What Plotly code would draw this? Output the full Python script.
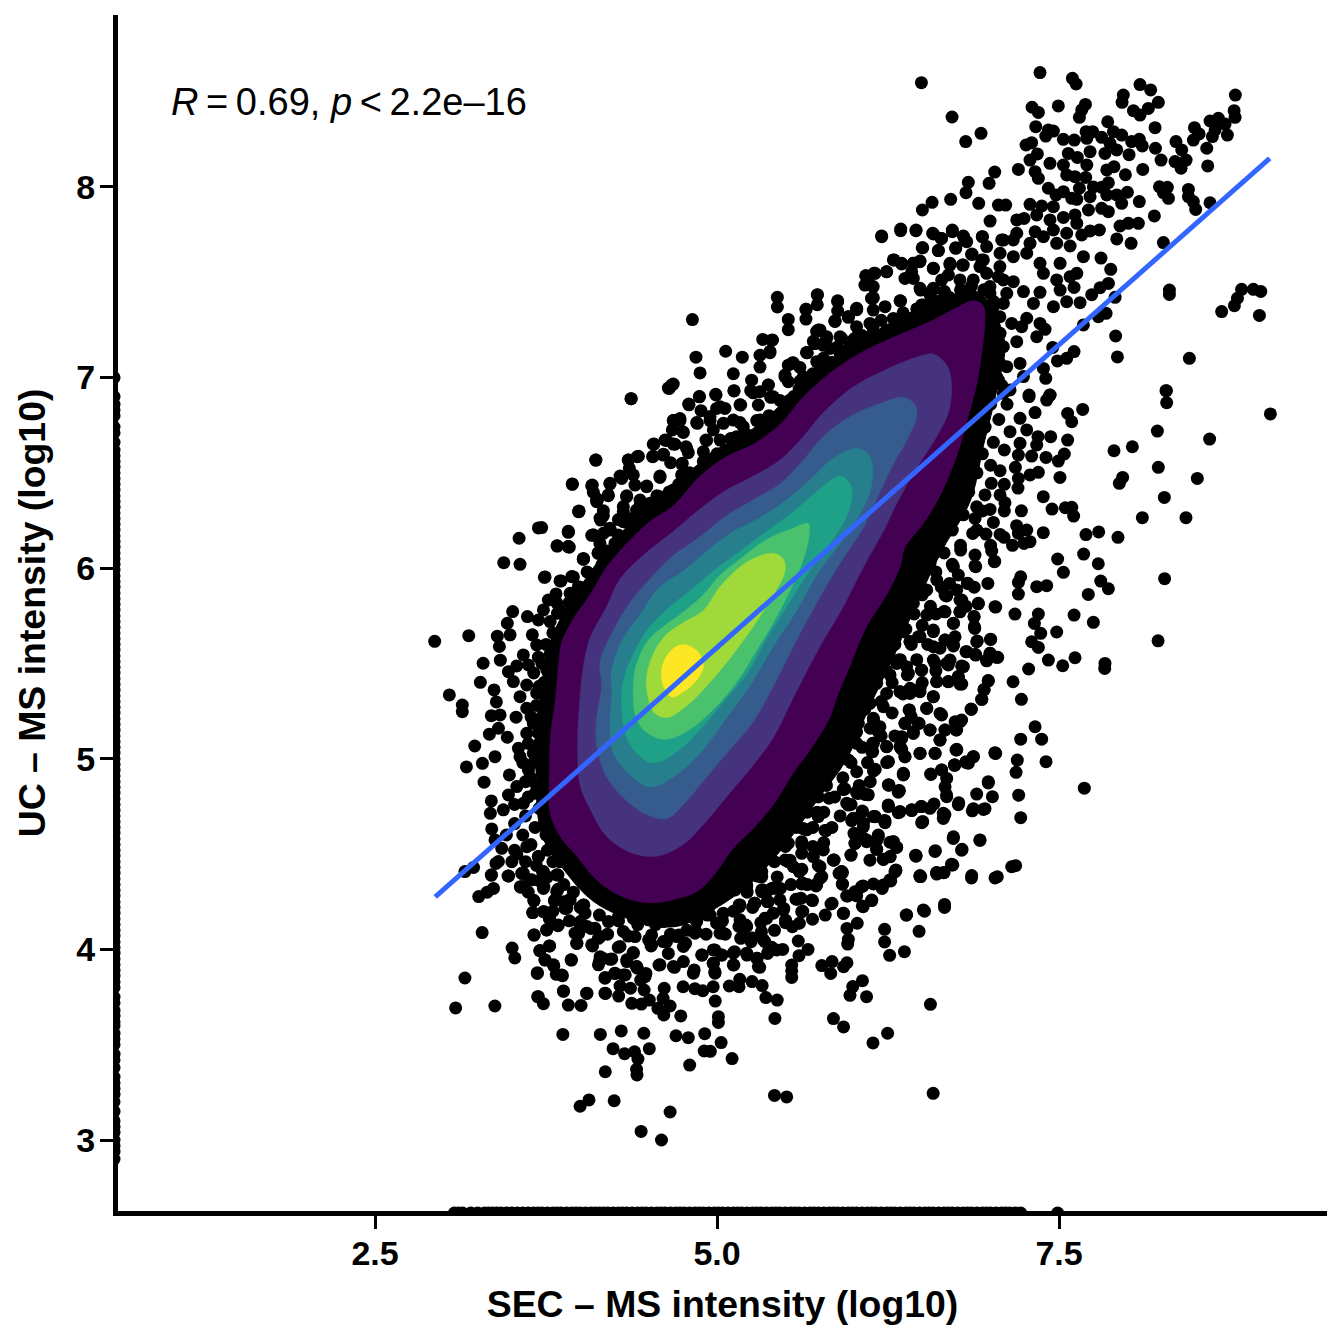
import plotly.graph_objects as go

x_ticks = [2.5, 5.0, 7.5]
x_tick_labels = ["2.5", "5.0", "7.5"]
y_ticks = [3, 4, 5, 6, 7, 8]
y_tick_labels = ["3", "4", "5", "6", "7", "8"]
x_title = "SEC – MS intensity (log10)"
y_title = "UC – MS intensity (log10)"
stat_label = "<i>R</i>\u2009=\u20090.69, <i>p</i>\u2009<\u20092.2e–16"
fit_x = [2.94, 9.04]
fit_y = [4.275, 8.15]
viridis8 = ["#440154", "#46337E", "#365C8D", "#277F8E", "#1FA187", "#4AC16D", "#9FDA3A", "#FDE725"]

# SEC missing: points pinned on the left limit, UC value
left_edge_x = 0.592
left_edge_y = [2.9, 2.94, 2.97, 3.0, 3.04, 3.07, 3.1, 3.15, 3.2, 3.24, 3.27, 3.3, 3.33, 3.38, 3.42, 3.45, 3.5, 3.53, 3.56, 3.6, 3.62, 3.65, 3.68, 3.72, 3.75, 3.8, 3.83, 3.86, 3.89, 3.92, 3.95, 3.98,
               4.01, 4.04, 4.07, 4.1, 4.13, 4.16, 4.19, 4.22, 4.25, 4.28, 4.31, 4.34, 4.37, 4.4, 4.43, 4.46, 4.49, 4.52, 4.55, 4.58, 4.61, 4.64, 4.67, 4.7, 4.73, 4.76, 4.79, 4.82, 4.85, 4.88, 4.91, 4.94, 4.97, 5.0, 5.03, 5.06, 5.09, 5.12, 5.15, 5.18,
               5.21, 5.24, 5.27, 5.3, 5.33, 5.36, 5.39, 5.42, 5.45, 5.48, 5.51, 5.54, 5.57, 5.6, 5.63, 5.66, 5.69, 5.72, 5.75, 5.78, 5.81, 5.84, 5.87, 5.9, 5.93, 5.96, 5.99, 6.02, 6.05, 6.08, 6.11, 6.14, 6.17, 6.2, 6.23, 6.26, 6.29, 6.32, 6.35, 6.38,
               6.41, 6.44, 6.47, 6.5, 6.53, 6.56, 6.59, 6.62, 6.66, 6.71, 6.74, 6.8, 6.83, 6.86, 6.9, 7.0]
# UC missing: points pinned on the bottom limit, SEC value
bottom_edge_y = 2.617
bottom_edge_x = [3.08, 3.11, 3.14, 3.2, 3.25, 3.3, 3.33, 3.36, 3.39, 3.42, 3.46, 3.5, 3.54, 3.58, 3.62, 3.66, 3.69, 3.72, 3.76, 3.8, 3.83, 3.86, 3.9, 3.94, 3.97, 4.0, 4.04, 4.08, 4.11, 4.14, 4.17, 4.2, 4.24, 4.28, 4.31, 4.34, 4.38, 4.42, 4.45,
                 4.48, 4.52, 4.56, 4.59, 4.62, 4.66, 4.7, 4.73, 4.76, 4.8, 4.84, 4.87, 4.9, 4.94, 4.98, 5.01, 5.04, 5.08, 5.12, 5.15, 5.18, 5.22, 5.26, 5.29, 5.32, 5.36, 5.4, 5.43, 5.46, 5.5, 5.54, 5.57, 5.6, 5.64, 5.68, 5.71, 5.74, 5.78, 5.82,
                 5.85, 5.88, 5.92, 5.96, 5.99, 6.02, 6.06, 6.1, 6.13, 6.16, 6.2, 6.24, 6.27, 6.3, 6.34, 6.38, 6.41, 6.44, 6.48, 6.52, 6.55, 6.58, 6.62, 6.66, 6.69, 6.72, 6.76, 6.8, 6.83, 6.86, 6.9, 6.94, 6.97, 7.0, 7.04, 7.08, 7.11, 7.14, 7.18, 7.22, 7.49]

dense_core_x = [6.9, 7.1, 7.05, 6.95, 6.85, 6.65, 6.45, 6.3, 6.1, 5.95, 5.75, 5.5, 5.25, 5.0, 4.7, 4.4, 4.1, 3.9, 3.72, 3.68, 3.72, 3.8, 3.98, 4.2, 4.45, 4.7, 5.0, 5.3, 5.6, 5.9, 6.25, 6.6, 6.9]
dense_core_y = [7.45, 7.2, 6.95, 6.65, 6.35, 6.1, 5.8, 5.55, 5.25, 5.0, 4.8, 4.55, 4.35, 4.22, 4.12, 4.15, 4.25, 4.4, 4.6, 5.0, 5.4, 5.65, 5.88, 6.1, 6.3, 6.45, 6.62, 6.75, 6.95, 7.12, 7.28, 7.4, 7.45]

points_bottom = [(4.445,3.045),(4.594,3.0),(4.657,3.147),(3.999,3.177),(4.064,3.21),(4.248,3.206),(5.42,3.234),(5.509,3.226),(6.58,3.245),(4.183,3.358),(4.415,3.341),(4.412,3.371),(4.422,3.425),(4.397,3.463),(4.324,3.453),(4.24,3.479),(4.505,3.479),(4.80,3.393),(4.906,3.467),(4.951,3.465),(5.03,3.511),(5.11,3.427),(4.70,3.547),(4.79,3.537),(4.91,3.558),(4.465,3.56),(4.30,3.572),(4.147,3.554),(3.873,3.554),(3.089,3.693),(3.376,3.703),(3.157,3.85),(3.283,4.088),(6.14,3.509),(6.247,3.56),(5.851,3.637),(5.925,3.593),(6.56,3.712),(5.423,3.638),(5.01,3.647),(5.01,3.617),(4.735,3.651),(4.987,3.729),(5.357,3.747),(5.44,3.734),(6.093,3.752),(5.972,3.759),(5.992,3.805),(6.063,3.836),(5.546,3.853),(5.546,3.888),(5.546,3.918),(5.831,3.874),(5.766,3.915),(5.841,3.936),(5.925,3.909),(5.95,3.93),(5.599,3.967),(5.665,4.0),(5.594,4.044),(5.48,4.0),(6.262,3.969),(6.37,3.988),(6.225,4.039),(6.225,4.105),(6.477,4.095),(5.955,4.028),(5.96,4.053),(5.95,4.11),(6.025,4.137),(6.383,4.18),(6.517,4.2),(6.663,4.22),(6.663,4.236),
(3.689,3.752),(3.731,3.715),(3.913,3.708),(4.006,3.706),(3.878,3.78),(4.049,3.769),(4.185,3.769),(4.281,3.755),(4.291,3.808),(4.377,3.717),(4.447,3.713),(4.367,3.796),(4.467,3.787),(4.505,3.734),(4.568,3.691),(4.611,3.656),(4.657,3.703),(4.606,3.743),(4.614,3.796),(4.752,3.804),(4.838,3.794),(4.896,3.783),(4.972,3.804),(5.09,3.808),(5.161,3.804),(5.166,3.843),(5.256,3.831),(5.33,3.81),(4.183,3.853),(4.253,3.874),(4.329,3.866),(4.417,3.901),(4.48,3.874),(4.442,3.839),(3.686,3.874),(3.825,3.869),(3.87,3.862),(3.807,3.913),(3.742,3.944),(3.704,3.993),(3.777,4.018),(3.502,4.007),(3.522,3.955),(3.936,3.944),(3.663,4.075),(3.754,4.102),(3.837,4.124),(3.774,4.163),(3.731,4.198),(3.653,4.193),(3.661,4.256),(3.812,4.256),(3.888,4.215),(3.926,4.259),(4.14,3.936),(4.165,3.953),(4.231,3.95),(3.976,4.032),(4.09,4.018),(4.145,4.067),(3.989,4.084),(4.077,4.11),(4.001,4.146),(4.026,4.233),(4.278,4.011),(4.387,3.983),(4.341,3.936),(4.412,3.909),(4.576,3.918),(4.689,3.906),(4.644,3.979),(4.518,4.018),(4.631,4.04),(4.72,4.076),(4.833,3.892),(4.984,3.883),(4.891,3.97),(4.972,3.927),(4.984,3.997),(5.035,3.97),(5.123,3.918),(5.128,3.988),(5.219,3.97),(5.294,3.953),(5.312,3.906),(5.37,3.979),(5.40,4.011),(5.173,4.058),(5.249,4.04),(5.35,4.04),(5.325,4.093),(5.211,4.128),(5.047,4.084),(4.997,4.137),(4.846,4.154),(4.846,4.093),(4.77,4.032),(5.501,4.154),(5.602,4.137),(5.551,4.119),(5.35,4.163),(5.488,4.215),(5.627,4.2),(5.698,4.158),(5.791,4.18),(5.698,4.256),(5.841,4.242),(5.925,4.189),(5.577,4.263),(5.614,4.268),(5.375,4.25),(5.274,4.242),(5.161,4.233),(5.072,4.329),(5.211,4.343),(5.337,4.312),(5.463,4.32),(5.40,4.32),(5.627,4.347),(5.728,4.338),(5.766,4.382),(5.602,4.408),(5.917,4.343),(5.955,4.28),(6.018,4.298),(6.068,4.333),(6.068,4.224),(6.131,4.256),(6.207,4.32),(6.27,4.359),(6.308,4.417),(5.917,4.403),(6.489,4.382),(6.605,4.403),(6.66,4.403),(6.724,4.443),(3.258,4.277),(3.32,4.3),(3.366,4.32),(3.351,4.39),(3.477,4.385),(3.578,4.399),(3.565,4.326),(3.636,4.364),(3.731,4.32),(3.724,4.408),(3.837,4.39),(3.837,4.315),(3.157,4.408),(3.22,4.43),(3.384,4.451)]

points_left = [(2.936,5.616),(3.185,5.646),(3.043,5.335),(3.138,5.282),(3.138,5.247),(3.27,5.401),(3.29,5.501),(3.416,5.517),(3.37,5.361),(3.387,5.298),(3.35,5.226),(3.414,5.23),(3.531,5.218),(3.336,5.129),(3.402,5.16),(3.229,5.067),(3.168,4.957),(3.285,4.976),(3.377,5.011),(3.297,4.877),(3.482,4.915),(3.35,4.779),(3.343,4.714),(3.353,4.632),(3.438,4.732),(3.377,4.574),(3.426,4.53),(3.402,4.461),(3.536,4.499),(3.609,4.539),(3.694,4.487),(3.35,4.39),(3.472,4.385),(3.572,4.399),(3.562,4.329),(3.731,4.399),(3.394,5.643),(3.487,5.65),(3.409,5.589),(3.467,5.711),(3.506,5.772),(3.614,5.746),(3.694,5.728),(3.731,5.781),(3.65,5.65),(3.682,5.597),(3.584,5.545),(3.694,5.533),(3.755,5.466),(3.536,5.487),(3.475,5.457),(3.621,5.492),(3.511,5.405),(3.609,5.387),(3.735,5.4),(3.682,5.344),(3.56,5.326),(3.609,5.265),(3.743,5.274),(3.467,5.113),(3.548,5.055),(3.657,5.029),(3.56,5.011),(3.621,4.941),(3.633,4.906),(3.536,4.854),(3.475,4.81),(3.584,4.766),(3.743,4.854),(3.67,4.819),(3.609,5.134),(3.657,5.186),(3.694,5.134),(3.553,6.157),(3.694,6.211),(3.441,6.029),(3.56,6.02),(3.738,5.952),(3.83,6.117),(3.913,6.188),(3.913,6.113),(3.989,6.297),(4.096,6.174),(4.023,6.047),(4.145,6.262),(3.86,5.933),(3.938,5.956),(3.986,5.903),(3.823,5.865),(3.767,5.833),(3.926,5.868),(3.833,5.763),(4.047,5.868),(4.096,5.956),(4.169,6.183),(4.218,6.2),(4.12,6.349),(4.315,6.323)]

points_upper_right = [(6.494,8.547),(7.361,8.6),(7.598,8.57),(7.625,8.54),(6.718,8.367),(6.93,8.281),(6.818,8.238),(8.092,8.537),(8.17,8.509),(7.97,8.482),(7.961,8.444),(8.226,8.444),(8.153,8.412),(8.044,8.4),(8.092,8.377),(8.789,8.482),(8.78,8.4),(8.787,8.365),(7.303,8.418),(7.349,8.391),(7.495,8.425),(7.693,8.433),(7.666,8.404),(7.649,8.365),(7.856,8.342),(7.33,8.316),(7.422,8.299),(7.403,8.267),(7.459,8.293),(7.532,8.25),(7.612,8.246),(7.698,8.29),(7.746,8.29),(7.703,8.255),(7.812,8.26),(7.898,8.29),(7.958,8.272),(7.873,8.229),(7.836,8.176),(7.922,8.194),(8.031,8.238),(8.087,8.25),(8.109,8.215),(8.202,8.311),(8.205,8.203),(8.246,8.141),(7.727,8.185),(8.012,8.169),(8.355,8.238),(8.397,8.194),(8.348,8.133),(8.429,8.141),(8.392,8.098),(8.112,8.092),(8.587,8.11),(8.49,8.311),(8.524,8.278),(8.482,8.246),(8.604,8.346),(8.665,8.36),(8.714,8.33),(8.641,8.299),(8.731,8.272),(8.621,8.264),(8.58,8.203),(7.259,8.22),(7.3,8.232),(7.342,8.173),(7.288,8.141),(7.434,8.124),(7.568,8.176),(7.634,8.155),(7.532,8.115),(7.703,8.115),(7.203,8.092),(7.325,8.08),(7.349,8.045),(7.556,8.063),(7.617,8.054),(7.695,8.05),(7.849,8.089),(7.902,8.106),(7.985,8.064),(7.861,8.022),(7.422,7.993),(7.649,7.993),(7.751,8.0),(7.812,7.998),(7.532,7.975),(7.478,7.958),(7.727,7.949),(7.849,7.958),(7.922,7.958),(8.0,7.972),(8.234,8.001),(8.292,7.998),(8.263,7.97),(8.3,7.94),(8.446,7.987),(8.446,7.949),(8.482,7.923),(8.604,7.917),(8.499,7.882),(8.087,7.923),(7.593,7.94),(7.63,7.935),(7.715,7.879),(7.812,7.888),(7.861,7.87),(7.958,7.914),(7.288,7.909),(7.374,7.9),(7.459,7.896),(7.057,7.905),(7.11,7.905),(6.913,7.914),(6.708,7.935),(6.572,7.919),(6.501,7.879),(7.03,8.078),(6.989,8.019),(6.837,8.024),(6.82,7.97),(6.996,7.821),(7.191,7.827),(7.244,7.835),(7.337,7.853),(7.532,7.84),(7.617,7.853),(7.434,7.827),(7.63,7.809),(8.197,7.848),(8.007,7.809),(8.08,7.809),(7.946,7.795),(7.922,7.727),(8.027,7.704),(8.263,7.708),(7.795,7.774),(7.727,7.769),(7.666,7.748),(7.556,7.757),(7.459,7.774),(7.325,7.765),(7.386,7.739),(7.191,7.757),(7.081,7.722),(7.166,7.722),(7.288,7.704),(7.483,7.704),(7.581,7.69),(6.204,7.739),(6.343,7.779),(6.455,7.774),(6.582,7.753),(6.638,7.73),(6.72,7.774),(6.801,7.742),(6.825,7.713),(6.94,7.739),(6.504,7.681),(6.618,7.666),(6.745,7.678),(6.864,7.648),(7.678,7.634),(7.807,7.627),(7.508,7.599),(7.878,7.568),(6.294,7.617),(6.35,7.599),(6.435,7.599),(6.484,7.611),(6.24,7.555),(6.155,7.547),(6.087,7.534),(6.582,7.573),(6.703,7.599),(6.794,7.59),(6.935,7.617),(7.069,7.652),(7.166,7.634),(7.264,7.652),(7.361,7.599),(7.386,7.547),(7.63,7.547),(7.581,7.529),(7.861,7.494),(7.8,7.471),(7.739,7.435),(7.61,7.473),(7.483,7.512),(7.508,7.459),(8.307,7.459),(8.307,7.436),(8.835,7.463),(8.921,7.463),(8.975,7.452),(8.804,7.416),(8.782,7.377),(8.689,7.346),(8.965,7.326),(7.91,7.421),(7.556,7.398),(7.654,7.393),(7.459,7.372),(7.313,7.389),(7.361,7.447),(7.24,7.451),(7.118,7.442),(7.057,7.529),(7.166,7.503),(5.734,7.435),(5.882,7.403),(5.651,7.358),(6.021,7.363),(6.338,7.403),(6.496,7.381),(6.131,7.416),(6.107,7.494),(6.484,7.468),(6.582,7.463),(6.662,7.451),(6.448,7.31),(5.863,7.297),(5.96,7.32),(5.753,7.25),(5.802,7.214),(5.717,7.179),(5.656,7.13),(5.729,7.083),(5.899,7.214),(5.899,7.127),(5.972,7.162),(7.264,7.311),(7.154,7.284),(7.227,7.267),(7.361,7.284),(7.398,7.253),(7.678,7.276),(7.788,7.319),(7.844,7.337),(7.914,7.218),(7.927,7.108),(8.453,7.101),(8.282,6.931),(7.61,7.136),(7.556,7.101),(7.488,7.087),(7.454,7.158),(7.337,7.214),(7.191,7.188),(7.069,7.232),(7.215,7.074),(7.386,7.048),(7.403,6.996),(7.281,6.908),(7.434,6.908),(7.24,7.005),(7.118,7.057),(7.057,6.987),(7.142,6.935)]

points_right = [(9.045,6.809),(8.285,6.931),(8.287,6.868),(7.673,6.833),(7.563,6.812),(7.593,6.768),(7.434,6.908),(7.41,6.882),(7.281,6.9),(8.219,6.719),(8.601,6.677),(7.902,6.616),(8.036,6.637),(8.226,6.529),(8.511,6.471),(7.965,6.476),(7.941,6.445),(8.27,6.371),(8.109,6.265),(8.428,6.265),(7.563,6.672),(7.439,6.69),(7.346,6.69),(7.337,6.646),(7.539,6.599),(7.495,6.562),(7.405,6.581),(7.3,6.588),(7.325,6.816),(7.215,6.786),(7.264,6.725),(7.142,6.716),(7.215,6.655),(7.507,6.476),(7.349,6.503),(7.288,6.489),(7.203,6.471),(7.181,6.529),(7.203,6.593),(7.069,6.511),(7.005,6.445),(7.385,6.375),(7.449,6.31),(7.546,6.317),(7.593,6.319),(7.607,6.273),(7.225,6.301),(7.069,6.384),(7.105,6.343),(6.996,6.308),(6.959,6.384),(6.898,6.322),(6.886,6.261),(6.869,6.182),(7.19,6.223),(7.264,6.2),(7.203,6.182),(7.385,6.186),(7.244,6.130),(7.288,6.139),(6.966,6.179),(7.069,6.177),(7.098,6.162),(7.697,6.176),(7.79,6.19),(7.931,6.162),(7.68,6.074),(7.787,6.023),(7.49,6.048),(7.532,5.978),(7.805,5.932),(7.861,5.892),(7.714,5.862),(8.272,5.945),(7.008,6.09),(7.03,6.036),(6.886,6.069),(6.891,6.008),(6.781,6.095),(7.22,5.955),(7.203,5.925),(7.203,5.864),(7.337,5.903),(7.41,5.908),(6.83,5.92),(6.91,5.813),(7.037,5.796),(7.178,5.759),(7.349,5.759),(7.61,5.754),(7.751,5.716),(7.32,5.71),(7.483,5.665),(7.366,5.658),(7.3,5.614),(7.349,5.584),(8.224,5.619),(6.879,5.745),(6.881,5.693),(6.776,5.771),(6.667,5.771),(6.728,5.71),(6.776,5.833),(6.679,5.854),(6.898,5.614),(7.0,5.626),(6.825,5.562),(6.891,5.544),(6.996,5.553),(7.052,5.532),(6.971,5.514),(7.422,5.518),(7.617,5.53),(7.527,5.488),(7.836,5.5),(7.834,5.474),(7.278,5.471),(7.164,5.404),(6.983,5.409),(6.952,5.364),(6.935,5.312),(7.225,5.312),(6.859,5.259),(6.728,5.597),(6.667,5.623),(6.679,5.5),(6.788,5.487),(6.496,5.465),(6.764,5.43),(6.691,5.404),(6.776,5.392),(6.606,5.404),(6.581,5.326),(6.411,5.343),(6.484,5.352),(6.338,5.352),(6.252,5.562),(6.179,5.483),(6.313,5.5),(6.399,5.448),(6.594,5.5),(6.472,5.64),(6.581,5.675),(6.411,5.614),(6.63,5.238),(6.533,5.264),(6.406,5.256),(6.374,5.186),(6.472,5.186),(6.143,5.212),(6.191,5.168),(6.788,5.203),(6.74,5.194),(6.752,5.151),(6.667,5.151),(6.557,5.151),(6.435,5.133),(6.35,5.116),(6.63,5.098),(6.338,5.063),(6.594,5.028),(6.143,5.081),(6.131,5.037),(6.24,5.063),(6.252,4.985),(6.374,5.011),(6.484,5.028),(7.325,5.168),(7.373,5.103),(7.22,5.103),(7.405,4.985),(7.037,5.028),(7.195,4.993),(7.186,4.929),(7.685,4.846),(6.752,5.046),(6.874,5.011),(6.82,4.981),(6.735,4.967),(6.642,4.941),(6.564,4.918),(6.362,4.918),(6.155,4.944),(6.679,4.897),(6.667,4.853),(6.679,4.801),(6.255,4.862),(6.33,4.832),(6.983,4.88),(6.898,4.815),(7.013,4.801),(7.205,4.809),(7.22,4.691),(6.767,4.769),(6.866,4.727),(6.947,4.734),(6.654,4.714),(6.654,4.687),(6.586,4.763),(6.496,4.749),(6.423,4.731),(6.33,4.719),(6.252,4.754),(6.503,4.67),(6.033,4.818),(6.082,4.813),(5.923,4.839),(5.96,4.757),(6.062,4.722),(6.155,4.696),(6.228,4.675),(5.997,4.687),(6.07,4.643),(6.009,4.6),(6.009,4.556),(6.094,4.574),(6.179,4.591),(6.289,4.565),(6.313,4.535),(6.167,4.525),(6.728,4.591),(6.922,4.574),(6.791,4.525),(6.596,4.518),(6.455,4.491),(6.265,4.486),(6.216,4.472),(5.98,4.495),(5.855,4.469),(5.911,4.407),(6.306,4.413),(6.715,4.443),(7.183,4.439),(7.154,4.434),(6.606,4.402),(6.654,4.402),(6.484,4.387),(6.862,4.387),(7.049,4.381)]

points_upper_left = [(5.441,7.37),(5.733,7.382),(5.882,7.349),(5.65,7.307),(5.521,7.251),(4.82,7.304),(4.113,6.567),(3.942,6.442),(3.989,6.296),(4.371,6.889),(4.668,6.961),(4.644,6.945),(4.846,7.107),(4.876,7.024),(5.063,7.138),(5.185,7.107),(5.334,7.2),(5.399,7.196),(5.387,7.138),(5.314,7.117),(5.314,7.055),(5.119,7.02),(5.253,6.986),(5.375,6.961),(5.124,6.93),(4.993,6.909),(4.871,6.899),(4.795,6.857),(5.265,6.92),(5.399,6.899),(5.168,6.857),(5.521,7.065),(5.558,7.076),(5.655,7.132),(5.728,7.242),(5.704,7.19),(5.862,7.294),(6.021,7.356),(6.143,7.418),(5.777,7.169),(5.497,7.003),(5.607,6.982),(5.509,6.868),(4.681,6.774),(4.729,6.785),(4.754,6.712),(4.632,6.67),(4.693,6.65),(4.534,6.65),(4.534,6.587),(4.608,6.598),(4.425,6.587),(4.352,6.567),(4.778,6.629),(4.851,6.764),(4.924,6.67),(5.022,6.847),(4.949,6.774),(5.168,6.764),(5.29,6.774),(4.851,6.483),(4.583,6.483),(4.742,6.546),(4.291,6.483),(4.486,6.431),(4.084,6.432),(4.218,6.442),(4.12,6.359),(4.205,6.38),(4.34,6.38),(4.437,6.328),(4.169,6.276),(3.913,6.193),(3.833,6.116),(3.92,6.11),(4.084,6.172),(4.023,6.047),(3.743,5.954),(3.852,5.933),(3.95,5.954),(3.828,5.819),(3.718,6.213),(4.279,6.255)]

points_lower_middle = [(6.143,4.936),(6.252,4.863),(6.362,4.915),(6.325,4.825),(6.252,4.749),(6.325,4.717),(6.423,4.728),(6.496,4.665),(6.143,4.697),(6.228,4.665),(6.021,4.821),(6.106,4.811),(5.935,4.842),(5.984,4.676),(6.07,4.582),(6.167,4.572),(6.264,4.562),(6.301,4.406),(6.484,4.385),(6.454,4.489),(6.593,4.514),(6.727,4.582),(6.788,4.52),(6.715,4.447),(6.606,4.395),(6.86,4.375),(7.032,4.375),(6.922,4.572),(6.666,4.707),(6.764,4.759),(6.874,4.738),(6.959,4.738),(6.678,4.811),(6.983,4.873),(7.032,5.029),(6.74,4.967),(6.837,4.977),(6.752,5.05),(6.35,5.05),(5.789,4.624),(5.85,4.468),(5.911,4.406),(5.728,4.717),(5.631,4.634),(5.533,4.468),(5.619,4.343),(5.728,4.343),(5.412,4.322),(5.29,4.385),(5.265,4.551),(6.118,4.468),(6.264,4.364),(6.143,4.343),(6.021,4.281)]

points_top_edge_a = [(4.373,6.889),(4.651,6.943),(4.68,6.966),(4.871,6.9),(4.99,6.912),(5.124,6.931),(5.246,6.931),(5.314,6.926),(5.375,6.961),(5.392,6.896),(4.793,6.861),(4.883,6.826),(4.997,6.838),(5.058,6.838),(5.173,6.856),(5.302,6.856),(4.68,6.774),(4.729,6.774),(4.856,6.76),(4.949,6.795),(5.119,6.777),(4.673,6.725),(4.749,6.716),(4.973,6.725),(5.046,6.76),(5.192,6.742),(5.314,6.777),(4.539,6.651),(4.62,6.672),(4.68,6.651),(4.773,6.637),(4.79,6.606),(4.919,6.672),(5.022,6.672),(5.143,6.69),(4.529,6.585),(4.607,6.593),(4.661,6.553),(4.746,6.55),(4.417,6.585),(4.351,6.567),(4.115,6.567),(4.9,6.611),(4.973,6.576),(4.359,6.523),(4.583,6.476),(4.839,6.489),(4.741,6.489),(4.388,6.489),(4.303,6.471),(3.942,6.44),(4.088,6.436),(4.217,6.445),(4.4,6.436),(4.485,6.427),(4.68,6.41),(4.096,6.398),(4.205,6.384),(4.127,6.361),(4.339,6.375),(4.437,6.357),(4.583,6.375),(3.991,6.3),(4.169,6.301),(4.149,6.252),(4.315,6.296),(4.412,6.305),(4.51,6.34),(4.315,6.244),(4.217,6.209),(4.376,6.261),(3.913,6.191),(4.096,6.174),(3.913,6.113),(4.278,6.174),(4.144,6.13),(4.023,6.051),(4.132,6.078),(4.254,6.13)]

points_top_edge_b = [(6.203,7.743),(6.342,7.77),(6.454,7.77),(6.576,7.757),(6.642,7.73),(6.72,7.765),(6.5,7.681),(6.618,7.666),(6.744,7.681),(6.812,7.721),(6.861,7.646),(6.939,7.739),(6.971,7.687),(7.093,7.721),(6.289,7.617),(6.349,7.596),(6.435,7.599),(6.483,7.608),(6.24,7.555),(6.147,7.547),(6.089,7.534),(6.581,7.573),(6.423,7.555),(6.374,7.52),(6.435,7.52),(6.703,7.59),(6.8,7.59),(6.691,7.538),(6.642,7.512),(6.776,7.512),(6.922,7.582),(6.873,7.512),(7.068,7.582),(6.995,7.477),(6.081,7.485),(6.142,7.477),(6.13,7.415),(6.488,7.459),(6.581,7.468),(6.661,7.45),(6.508,7.38),(6.557,7.433),(5.441,7.421),(5.733,7.433),(5.882,7.398),(5.65,7.358),(5.521,7.305),(6.342,7.401),(6.228,7.372),(6.02,7.359),(6.142,7.354),(5.96,7.316),(5.862,7.296),(6.435,7.31),(6.557,7.319),(6.289,7.31),(6.118,7.284),(5.74,7.249),(6.02,7.267),(5.911,7.206),(6.24,7.249),(5.801,7.206),(5.716,7.179),(6.118,7.214),(6.008,7.206),(5.826,7.153),(5.972,7.144),(5.66,7.13),(5.406,7.197),(5.387,7.13),(5.777,7.101),(5.911,7.127),(5.553,7.078),(5.606,7.053),(5.497,7.013),(5.631,7.004),(5.753,7.039),(5.521,6.978),(5.606,6.917),(5.411,6.899),(5.533,6.882),(6.971,7.197),(7.044,7.214),(7.093,7.162),(6.995,7.144),(7.068,7.074),(6.995,7.074),(7.044,7.004),(6.971,6.934),(7.093,6.917),(6.947,6.882),(6.995,7.267),(7.068,7.319),(6.971,7.547),(6.947,7.617),(7.093,7.512),(7.093,7.389),(7.02,7.372),(6.995,7.442)]

points_bottom_edge = [(3.584,4.4),(3.645,4.365),(3.731,4.408),(3.694,4.487),(3.735,4.33),(3.579,4.33),(3.828,4.391),(3.828,4.303),(3.662,4.256),(3.811,4.256),(3.653,4.193),(3.735,4.198),(3.779,4.155),(3.84,4.128),(3.755,4.102),(3.662,4.076),(3.774,4.018),(3.706,3.994),(3.743,3.945),(3.804,3.919),(3.865,3.866),(3.687,3.878),(3.933,3.945),(3.877,3.782),(3.694,3.752),(4.047,3.77),(4.181,3.77),(3.921,4.26),(3.901,4.216),(4.023,4.233),(4.035,4.19),(3.994,4.137),(3.962,4.085),(3.974,4.032),(4.108,4.111),(4.133,4.058),(4.084,4.024),(4.206,4.146),(4.279,4.172),(4.315,4.094),(4.388,4.163),(4.401,4.067),(4.498,4.155),(4.522,4.076),(4.608,4.146),(4.632,4.233),(4.815,4.233),(4.949,4.233),(5.071,4.33),(5.217,4.338),(5.168,4.233),(5.278,4.242),(5.368,4.251),(5.436,4.321),(5.327,4.312),(5.144,4.452),(5.241,4.417),(5.327,4.408),(5.363,4.478),(5.046,4.19),(4.925,4.181),(4.851,4.146),(4.705,4.067),(4.839,4.085),(4.754,4.015),(5.022,4.085),(5.168,4.155),(5.217,4.12),(5.193,4.067),(5.363,4.163),(5.412,4.19),(5.253,4.059),(5.339,4.05),(5.375,3.989),(5.436,3.997),(5.119,3.98),(5.217,3.98),(5.29,3.954),(5.302,3.91),(5.119,3.919),(5.034,3.971),(4.973,3.997),(4.888,3.971),(4.973,3.927),(4.827,3.875),(4.985,3.875),(4.583,3.919),(4.681,3.91),(4.754,3.936),(4.291,4.015),(4.388,3.98),(4.522,4.024),(4.608,4.041),(4.145,3.962),(4.133,3.919),(4.218,3.948),(4.34,3.945),(4.413,3.91),(4.181,3.849),(4.254,3.875),(4.474,3.857),(4.315,3.866)]

points_right_edge = [(6.886,6.012),(7.027,6.034),(6.832,5.921),(6.764,5.964),(6.728,6.008),(6.91,5.816),(7.032,5.798),(6.776,5.772),(6.789,5.833),(6.752,5.886),(6.667,5.859),(6.659,5.772),(6.728,5.711),(6.879,5.746),(6.884,5.684),(6.903,5.618),(7.0,5.627),(6.82,5.562),(6.888,5.548),(6.971,5.518),(6.996,5.553),(7.044,5.532),(6.667,5.623),(6.728,5.592),(6.581,5.518),(6.703,5.518),(6.801,5.483),(6.691,5.492),(6.494,5.466),(6.606,5.405),(6.691,5.405),(6.764,5.431),(6.789,5.392),(6.983,5.41),(6.952,5.361),(6.935,5.312),(6.857,5.261),(6.581,5.326),(6.484,5.37),(6.411,5.37),(6.338,5.352),(6.533,5.265),(6.642,5.23),(6.404,5.256),(6.374,5.186),(6.477,5.186),(6.143,5.204),(6.179,5.142),(6.776,5.195),(6.747,5.151),(6.667,5.151),(6.557,5.151),(6.35,5.107),(6.435,5.142),(6.63,5.099),(6.594,5.029),(6.747,5.046),(7.032,5.032),(6.338,5.064),(6.138,5.081),(6.138,5.037),(6.24,5.064),(6.252,4.985),(6.374,5.011),(6.484,5.029),(6.874,5.011),(6.82,4.985),(6.735,4.967),(6.642,4.941),(6.562,4.92),(6.362,4.924),(6.155,4.945),(6.021,4.932),(5.96,4.994),(6.021,5.081),(6.033,5.186),(6.118,5.291),(6.216,5.273),(6.094,5.343),(6.24,5.343),(6.167,5.396),(5.997,5.291),(6.265,5.44),(6.391,5.44),(6.179,5.483),(6.326,5.518),(6.386,5.483),(6.257,5.567),(6.411,5.615),(6.484,5.641),(6.362,5.667),(6.581,5.667),(6.63,5.58),(6.581,5.588),(6.533,5.754),(6.435,5.816),(6.338,5.868),(6.265,5.851),(6.179,5.641),(6.131,5.711),(6.277,5.702),(6.533,5.886),(6.606,5.938),(6.435,5.973),(6.362,6.008),(6.557,6.026)]

points_lower_right_edge = [(6.257,4.863),(6.333,4.833),(6.021,4.828),(6.082,4.816),(5.928,4.84),(5.948,4.767),(5.819,4.793),(6.252,4.758),(6.338,4.723),(6.423,4.732),(6.491,4.749),(6.557,4.74),(6.503,4.67),(6.062,4.726),(6.155,4.697),(6.223,4.676),(5.997,4.688),(6.07,4.662),(5.733,4.719),(5.74,4.697),(5.797,4.623),(6.001,4.609),(6.009,4.557),(6.094,4.565),(6.179,4.6),(6.289,4.565),(6.313,4.536),(6.167,4.525),(5.979,4.495),(5.855,4.469),(5.777,4.522),(5.753,4.434),(6.452,4.494),(6.265,4.487),(6.216,4.473),(6.306,4.413),(6.484,4.382),(5.911,4.408),(5.892,4.399),(6.265,4.364),(6.216,4.338),(6.057,4.329),(6.009,4.303),(5.948,4.28),(5.916,4.342),(5.753,4.373),(5.724,4.333),(5.624,4.347),(6.131,4.259),(6.062,4.228),(5.833,4.238),(5.692,4.259),(5.59,4.263),(5.619,4.198),(5.923,4.189),(6.508,4.207),(6.386,4.181),(5.436,4.321),(5.368,4.251),(5.273,4.242),(5.163,4.224),(5.217,4.329),(5.132,4.312),(5.327,4.303),(5.327,4.382),(5.241,4.425),(5.144,4.469),(5.485,4.207),(5.363,4.522),(5.497,4.469),(5.558,4.434),(5.619,4.504),(5.704,4.487),(5.521,4.557),(5.619,4.565),(5.655,4.627),(5.412,4.609),(5.29,4.557)]

points_band_left = [(3.75,5.6),(3.72,5.5),(3.78,5.55),(3.66,5.45),(3.7,5.38),(3.76,5.33),(3.68,5.28),(3.72,5.22),(3.64,5.22),(3.77,5.16),(3.7,5.08),(3.62,5.08),(3.74,5.02),(3.66,4.98),(3.58,4.98),(3.72,4.94),(3.6,4.88),(3.68,4.86),(3.75,4.8),(3.62,4.8),(3.52,4.76),(3.7,4.74),(3.76,4.7),(3.6,4.7),(3.52,4.66),(3.67,4.64),(3.75,4.6),(3.58,4.6),(3.46,4.6),(3.64,4.55),(3.76,4.52),(3.52,4.52),(3.8,4.46),(3.68,4.44),(3.6,4.46),(3.76,4.38),(3.5,4.46),(3.88,4.34),(3.95,4.3),(3.7,4.36),(3.62,4.3),(3.85,4.46)]

points_band_top = [(3.78,5.72),(3.85,5.78),(3.92,5.82),(3.8,5.66),(3.96,5.76),(4.0,5.9),(4.05,5.85),(4.1,5.95),(4.05,5.98),(4.16,6.02),(4.13,6.08),(4.2,6.09),(4.25,6.05),(4.28,6.15),(4.33,6.1),(4.38,6.2),(4.42,6.15),(4.48,6.22),(4.48,6.28),(4.55,6.28),(4.6,6.33),(4.56,6.38),(4.65,6.4),(4.7,6.36),(4.72,6.44),(4.78,6.42),(4.8,6.5),(4.86,6.5),(4.9,6.56),(4.96,6.52),(5.0,6.6),(5.06,6.62),(5.1,6.68),(5.15,6.62),(5.22,6.7),(5.28,6.66),(5.34,6.72),(5.38,6.8),(5.44,6.76),(5.5,6.82),(5.46,6.88),(5.56,6.9),(5.6,6.94),(5.66,6.96),(5.7,7.02),(5.76,7.06),(5.84,7.08),(5.88,7.16),(5.95,7.14),(6.0,7.2),(6.06,7.22),(6.14,7.26),(6.2,7.3),(6.3,7.3),(6.36,7.34),(6.46,7.36),(6.54,7.38),(6.62,7.4),(6.7,7.42),(6.78,7.46),(6.86,7.48),(6.95,7.46),(7.02,7.4),(7.0,7.3)]

points_band_right = [(6.98,7.22),(7.04,7.12),(7.0,7.02),(7.08,6.96),(7.12,6.86),(7.0,6.86),(7.06,6.78),(6.96,6.74),(7.02,6.66),(7.1,6.62),(6.94,6.6),(7.0,6.54),(6.9,6.5),(7.1,6.44),(6.84,6.4),(6.94,6.3),(6.8,6.28),(7.02,6.24),(6.9,6.2),(6.72,6.2),(6.78,6.12),(6.66,6.08),(6.72,6.02),(6.6,5.98),(6.64,5.9),(6.5,5.86),(6.56,5.8),(6.44,5.76),(6.5,5.7),(6.38,5.68),(6.42,5.6),(6.3,5.6),(6.34,5.52),(6.24,5.46),(6.28,5.4),(6.14,5.4),(6.2,5.3),(6.08,5.26),(6.12,5.16),(6.02,5.14),(6.06,5.06),(5.94,5.06),(5.9,5.14),(5.98,4.98),(5.86,4.96),(5.92,4.9),(5.8,4.86),(5.86,4.8),(5.74,4.8),(5.78,4.72),(5.66,4.72),(5.7,4.64),(5.58,4.64),(5.62,4.55),(5.5,4.54),(5.52,4.46),(5.42,4.46),(5.44,4.38),(5.32,4.38),(5.36,4.3),(5.22,4.3),(5.26,4.22),(5.12,4.2),(5.16,4.12),(5.04,4.15),(5.06,4.08),(4.95,4.18),(4.92,4.08),(4.85,4.15),(4.78,4.1),(4.7,4.16),(4.66,4.08),(4.55,4.13),(4.5,4.05),(4.42,4.13),(4.35,4.07),(4.28,4.15),(4.2,4.08),(4.14,4.18),(4.05,4.12),(4.0,4.22),(3.92,4.15),(3.88,4.25),(3.8,4.2),
(7.2,6.42),(7.1,6.3),(7.16,6.12),(7.0,6.12),(6.98,5.92),(6.88,5.9),(6.7,5.92),(6.82,5.8),(6.6,5.76),(6.74,5.64),(6.54,5.6),(6.6,5.46),(6.46,5.52),(6.5,5.4),(6.36,5.34),(6.42,5.22),(6.28,5.24),(6.3,5.12),(6.2,5.12),(6.24,4.98),(6.1,4.98),(6.12,4.88),(6.04,4.86),(5.98,4.76),(5.9,4.7),(5.84,4.64),(5.78,4.56),(5.7,4.54),(5.74,4.44),(5.62,4.42),(5.66,4.34),(5.54,4.34),(5.46,4.26),(5.5,4.14),(5.42,4.1),(5.32,4.14),(5.26,4.06)]

contour1_x = [6.874,6.947,6.959,6.935,6.898,6.837,6.752,6.63,6.508,6.374,6.338,6.24,6.094,5.972,5.875,5.826,5.704,5.558,5.412,5.265,5.119,4.973,4.851,4.681,4.486,4.291,4.12,3.974,3.852,3.779,3.774,3.784,3.816,3.84,3.864,3.95,4.071,4.193,4.34,4.51,4.681,4.876,5.071,5.265,5.46,5.631,5.826,6.045,6.289,6.557,6.752,6.874]
contour1_y = [7.404,7.377,7.294,7.128,6.961,6.795,6.587,6.38,6.234,6.109,6.006,5.86,5.694,5.486,5.32,5.216,5.071,4.925,4.759,4.634,4.53,4.385,4.302,4.26,4.244,4.281,4.364,4.489,4.593,4.717,4.904,5.133,5.299,5.486,5.611,5.735,5.86,6.006,6.13,6.245,6.328,6.483,6.587,6.65,6.754,6.899,7.024,7.128,7.211,7.294,7.366,7.404]
contour2_x = [6.581,6.679,6.715,6.691,6.606,6.459,6.313,6.216,6.07,5.923,5.753,5.558,5.412,5.265,5.071,4.9,4.754,4.559,4.364,4.193,4.071,3.998,3.981,3.994,4.023,4.071,4.193,4.291,4.461,4.681,4.851,5.046,5.265,5.46,5.631,5.777,5.996,6.24,6.459,6.581]
contour2_y = [7.123,7.065,6.961,6.816,6.691,6.525,6.338,6.193,6.006,5.798,5.59,5.32,5.112,4.967,4.801,4.655,4.551,4.489,4.51,4.593,4.738,4.863,5.071,5.278,5.486,5.632,5.798,5.943,6.068,6.193,6.296,6.4,6.483,6.567,6.691,6.816,6.951,7.044,7.107,7.123]
contour3_x = [6.362,6.447,6.459,6.386,6.289,6.191,6.07,5.899,5.728,5.558,5.412,5.265,5.071,4.876,4.754,4.632,4.486,4.34,4.193,4.12,4.12,4.157,4.145,4.242,4.364,4.51,4.681,4.851,5.071,5.265,5.46,5.631,5.777,5.972,6.167,6.362]
contour3_y = [6.895,6.857,6.795,6.67,6.546,6.4,6.213,6.026,5.819,5.59,5.382,5.195,5.029,4.863,4.759,4.686,4.707,4.78,4.904,5.071,5.216,5.382,5.507,5.673,5.819,5.943,6.068,6.151,6.276,6.359,6.442,6.567,6.691,6.795,6.857,6.895]
contour4_x = [6.021,6.106,6.138,6.118,6.021,5.899,5.728,5.582,5.412,5.241,5.071,4.876,4.681,4.51,4.364,4.242,4.218,4.23,4.23,4.315,4.437,4.583,4.754,4.924,5.119,5.314,5.509,5.68,5.85,6.021]
contour4_y = [6.629,6.598,6.525,6.4,6.255,6.13,5.964,5.777,5.59,5.382,5.216,5.029,4.904,4.852,4.915,5.029,5.175,5.341,5.465,5.632,5.756,5.902,5.985,6.089,6.193,6.265,6.359,6.463,6.577,6.629]
contour5_x = [5.899,5.972,5.984,5.936,5.826,5.655,5.509,5.363,5.217,5.071,4.876,4.729,4.534,4.413,4.34,4.303,4.315,4.388,4.51,4.656,4.803,4.973,5.168,5.363,5.558,5.728,5.899]
contour5_y = [6.483,6.442,6.359,6.255,6.13,5.964,5.798,5.632,5.445,5.32,5.154,5.05,4.977,5.029,5.112,5.258,5.403,5.549,5.694,5.798,5.881,5.985,6.089,6.193,6.296,6.4,6.483]
contour6_x = [5.667,5.675,5.631,5.533,5.412,5.29,5.144,4.973,4.778,4.608,4.461,4.4,4.388,4.4,4.486,4.608,4.729,4.9,5.022,5.168,5.363,5.533,5.667]
contour6_y = [6.234,6.182,6.047,5.881,5.715,5.569,5.403,5.258,5.143,5.102,5.154,5.237,5.341,5.465,5.611,5.694,5.756,5.86,5.964,6.047,6.151,6.203,6.234]
contour7_x = [5.412,5.485,5.497,5.412,5.265,5.095,4.924,4.778,4.632,4.534,4.491,4.486,4.547,4.632,4.754,4.9,5.022,5.168,5.29,5.412]
contour7_y = [6.078,6.047,5.985,5.86,5.694,5.528,5.382,5.278,5.216,5.247,5.341,5.434,5.569,5.653,5.715,5.777,5.902,6.006,6.058,6.078]
contour8_x = [4.778,4.863,4.9,4.851,4.754,4.668,4.608,4.595,4.632,4.705,4.778]
contour8_y = [5.596,5.559,5.486,5.413,5.351,5.324,5.382,5.465,5.538,5.59,5.596]

contours = [(contour1_x, contour1_y), (contour2_x, contour2_y), (contour3_x, contour3_y), (contour4_x, contour4_y),
            (contour5_x, contour5_y), (contour6_x, contour6_y), (contour7_x, contour7_y), (contour8_x, contour8_y)]

all_points = (points_bottom + points_left + points_upper_right + points_right + points_upper_left + points_lower_middle
              + points_top_edge_a + points_top_edge_b + points_bottom_edge + points_right_edge + points_lower_right_edge
              + points_band_left + points_band_top + points_band_right)

MARKER = dict(color="#000000", size=13, line=dict(width=0))
fig = go.Figure()
fig.add_trace(go.Scatter(x=dense_core_x, y=dense_core_y, mode="lines", fill="toself", fillcolor="#000000",
                         line=dict(color="#000000", width=1, shape="spline"), hoverinfo="skip"))
fig.add_trace(go.Scatter(x=[p[0] for p in all_points], y=[p[1] for p in all_points], mode="markers", marker=MARKER))
fig.add_trace(go.Scatter(x=[left_edge_x] * len(left_edge_y), y=left_edge_y, mode="markers", marker=MARKER))
fig.add_trace(go.Scatter(x=bottom_edge_x, y=[bottom_edge_y] * len(bottom_edge_x), mode="markers", marker=MARKER))
for (cx, cy), col in zip(contours, viridis8):
    fig.add_trace(go.Scatter(x=cx, y=cy, mode="lines", fill="toself", fillcolor=col,
                             line=dict(color=col, width=0.5, shape="spline", smoothing=1), hoverinfo="skip"))
fig.add_trace(go.Scatter(x=fit_x, y=fit_y, mode="lines", line=dict(color="#3366FF", width=5)))

FONT = "Liberation Sans, Arial, sans-serif"
fig.update_layout(
    width=1336, height=1336, showlegend=False, paper_bgcolor="white", plot_bgcolor="white",
    margin=dict(l=110, r=17, t=7, b=133, pad=0),
    xaxis=dict(range=[0.621, 9.459], tickmode="array", tickvals=x_ticks, ticktext=x_tick_labels,
               showgrid=False, zeroline=False, showline=True, linecolor="black", linewidth=5,
               ticks="outside", ticklen=13, tickwidth=3, tickcolor="black", ticklabelstandoff=-5,
               tickfont=dict(family=FONT, size=34, color="black", weight="bold"),
               title=dict(text="<b>" + x_title + "</b>", font=dict(family=FONT, size=37.4, color="black"), standoff=22)),
    yaxis=dict(range=[2.6275, 8.902], tickmode="array", tickvals=y_ticks, ticktext=y_tick_labels,
               showgrid=False, zeroline=False, showline=True, linecolor="black", linewidth=5,
               ticks="outside", ticklen=13, tickwidth=3, tickcolor="black", ticklabelstandoff=-2,
               tickfont=dict(family=FONT, size=34, color="black", weight="bold"),
               title=dict(text="<b>" + y_title + "</b>", font=dict(family=FONT, size=37.4, color="black"), standoff=21)),
    annotations=[dict(x=0.995, y=8.445, xref="x", yref="y", xanchor="left", yanchor="middle", showarrow=False,
                      text=stat_label, font=dict(family=FONT, size=38, color="black"))],
)
fig.write_html("out.html")
